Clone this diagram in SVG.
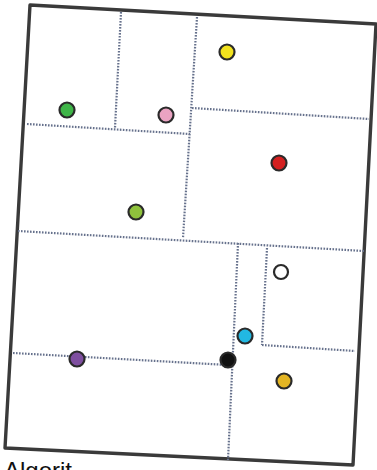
<svg xmlns="http://www.w3.org/2000/svg" width="377" height="470" viewBox="0 0 377 470">
<style>
.frame{fill:#fff;stroke:#3a3a3a;stroke-width:3.4;stroke-linejoin:round}
.split{fill:none;stroke:#66718c;stroke-width:2.2;stroke-dasharray:1.6 1.4}
.pt{stroke:#2a2a2a;stroke-width:2.2}
.lbl{font-family:"Liberation Sans",Arial,sans-serif;font-size:24px;fill:#111}
</style>
<rect width="377" height="470" fill="#fff"/>
<polygon class="frame" points="30,5 376,24 353,465 5,448"/>
<g id="connectors">
<line class="split" x1="121" y1="12" x2="115" y2="128"/>
<line class="split" x1="27" y1="124" x2="190" y2="134"/>
<line class="split" x1="197" y1="17" x2="183" y2="238"/>
<line class="split" x1="192" y1="108" x2="369" y2="119"/>
<line class="split" x1="18" y1="231" x2="364" y2="251"/>
<line class="split" x1="238" y1="243" x2="228" y2="460"/>
<line class="split" x1="267" y1="248" x2="262" y2="345"/>
<line class="split" x1="262" y1="345" x2="355" y2="351"/>
<line class="split" x1="13" y1="353" x2="228" y2="365"/>
</g>
<g id="yellow"><circle class="pt" cx="227" cy="52" r="7.5" fill="#f2e21e"/></g>
<g id="green"><circle class="pt" cx="67" cy="110" r="7.5" fill="#3fb548"/></g>
<g id="pink"><circle class="pt" cx="166" cy="115" r="7.5" fill="#eaa3c2"/></g>
<g id="red"><circle class="pt" cx="279" cy="163" r="7.5" fill="#d42020"/></g>
<g id="olive"><circle class="pt" cx="136" cy="212" r="7.5" fill="#8fc23c"/></g>
<g id="white"><circle class="pt" cx="281" cy="272" r="7" fill="#fff" stroke-width="2.6"/></g>
<g id="cyan"><circle class="pt" cx="245" cy="336" r="7.5" fill="#22b8e2"/></g>
<g id="black"><circle class="pt" cx="228" cy="360" r="7.5" fill="#111"/></g>
<g id="purple"><circle class="pt" cx="77" cy="359" r="7.5" fill="#7f4fa0"/></g>
<g id="gold"><circle class="pt" cx="284" cy="381" r="7.5" fill="#e3b524"/></g>
<text class="lbl" x="4" y="479">Algorit</text>
</svg>
